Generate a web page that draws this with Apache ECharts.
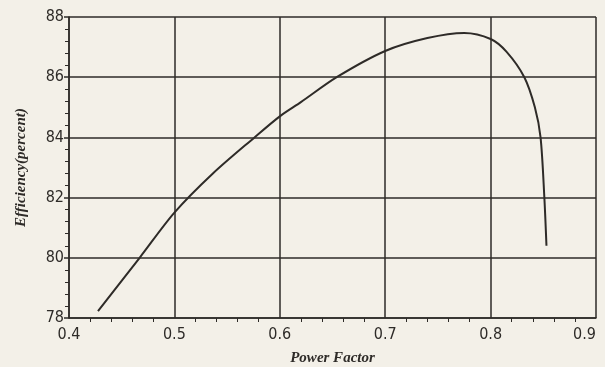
<!DOCTYPE html>
<html>
<head>
<meta charset="utf-8">
<script src="https://cdn.jsdelivr.net/npm/echarts@6/dist/echarts.min.js"></script>
<style>
  html, body { margin: 0; padding: 0; background: #f3f0e8; }
  #chart { width: 605px; height: 367px; }
</style>
</head>
<body>
<div id="chart"></div>
<script>
// power factor vs efficiency
const powerFactor = [0.4275, 0.467, 0.5, 0.5365, 0.576, 0.6, 0.62, 0.654, 0.7, 0.74, 0.775, 0.8, 0.815, 0.832, 0.842, 0.8474, 0.851, 0.853];
const efficiency = [78.23, 80.0, 81.5, 82.8, 84.0, 84.7, 85.17, 86.0, 86.87, 87.3, 87.47, 87.27, 86.85, 86.0, 85.0, 84.0, 82.0, 80.4];
const xTicks = [0.4, 0.5, 0.6, 0.7, 0.8, 0.9];
const yTicks = [78, 80, 82, 84, 86, 88];

const ink = '#2e2b28';
const chart = echarts.init(document.getElementById('chart'));

chart.setOption({
  backgroundColor: '#f3f0e8',
  animation: false,
  grid: { left: 69, right: 9, top: 17, bottom: 49, outerBoundsMode: 'none' },
  xAxis: {
    type: 'value',
    min: xTicks[0],
    max: xTicks[xTicks.length - 1],
    interval: 0.1,
    name: 'Power Factor',
    nameLocation: 'middle',
    nameGap: 33,
    nameTextStyle: { color: ink, fontFamily: 'Liberation Serif', fontStyle: 'italic', fontWeight: 'bold', fontSize: 15 },
    axisLine: { lineStyle: { color: ink, width: 1.5 } },
    axisTick: { show: false },
    minorTick: { show: true, splitNumber: 5, length: 4, lineStyle: { color: ink, width: 1 } },
    axisLabel: {
      color: ink, fontFamily: 'DejaVu Sans Condensed', fontSize: 16, margin: 9,
      alignMaxLabel: 'right',
      formatter: v => v.toFixed(1)
    },
    splitLine: { show: true, lineStyle: { color: ink, width: 1.5 } }
  },
  yAxis: {
    type: 'value',
    min: yTicks[0],
    max: yTicks[yTicks.length - 1],
    interval: 2,
    name: 'Efficiency(percent)',
    nameLocation: 'middle',
    nameGap: 40,
    nameTextStyle: { color: ink, fontFamily: 'Liberation Serif', fontStyle: 'italic', fontWeight: 'bold', fontSize: 15 },
    axisLine: { show: true, lineStyle: { color: ink, width: 1.5 } },
    axisTick: { show: true, length: 5, lineStyle: { color: ink, width: 1.5 } },
    minorTick: { show: true, splitNumber: 5, length: 4, lineStyle: { color: ink, width: 1 } },
    axisLabel: { color: ink, fontFamily: 'DejaVu Sans Condensed', fontSize: 16, margin: 5 },
    splitLine: { show: true, lineStyle: { color: ink, width: 1.5 } }
  },
  series: [{
    type: 'line',
    data: powerFactor.map((x, i) => [x, efficiency[i]]),
    smooth: 0.3,
    showSymbol: false,
    lineStyle: { color: ink, width: 2 }
  }]
});
</script>
</body>
</html>
